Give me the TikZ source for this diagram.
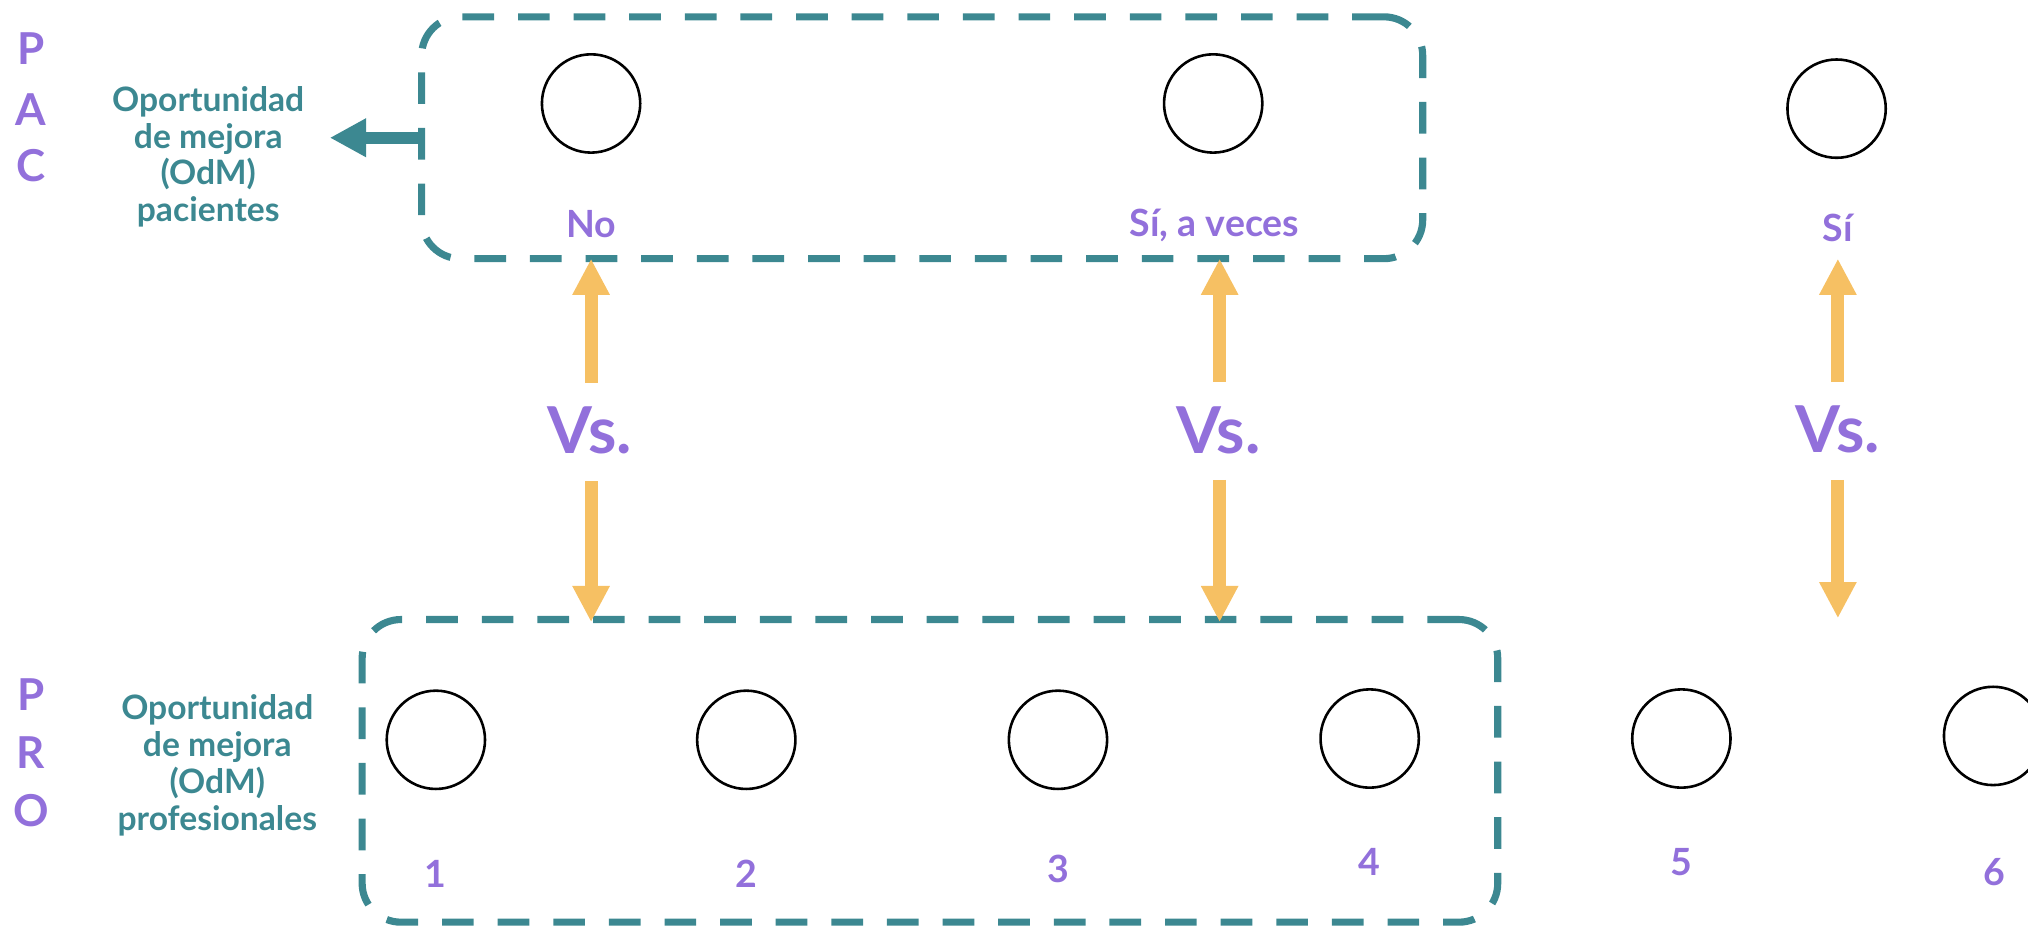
\documentclass[tikz,border=0pt]{standalone}
\usepackage{fontspec}
\setmainfont{Lato}
\usetikzlibrary{arrows.meta}
\definecolor{tealc}{HTML}{3C8891}
\definecolor{purp}{HTML}{9270DB}
\definecolor{orng}{HTML}{F6C063}
\begin{document}
\begin{tikzpicture}[x=1pt,y=-1pt,
  dashbox/.style={draw=tealc,line width=5.5pt,dash pattern=on 24.5pt off 18.5pt,rounded corners=30pt,inner sep=0pt,outer sep=0pt},
  circ/.style={draw=black,line width=2pt,circle,minimum size=76pt,inner sep=0pt},
  lbl/.style={text=purp,font=\fontsize{29}{34}\selectfont\bfseries,anchor=base,inner sep=0pt},
  vs/.style={text=purp,font=\fontsize{50}{60}\selectfont\bfseries,anchor=base,inner sep=0pt},
  side/.style={text=purp,font=\fontsize{34}{40}\selectfont\bfseries,anchor=base,inner sep=0pt},
  odm/.style={text=tealc,font=\fontsize{26}{28.5}\selectfont\bfseries,align=center,anchor=base,inner sep=0pt},
  oarrow/.style={draw=orng,line width=10pt,-{Triangle[length=28pt,width=27pt]}},
  tarrow/.style={draw=tealc,line width=9pt,-{Triangle[length=28pt,width=28pt]}}]
\useasboundingbox (0,0) rectangle (1568,717);
\clip (0,0) rectangle (1568,717);
% boxes
\node[dashbox,minimum width=774pt,minimum height=187pt] (pacbox) at (713,106.5) {};
\node[dashbox,minimum width=878pt,minimum height=234pt] (probox) at (719,596) {};
% side letters
\node[side] (pP) at (24,50) {P};
\node[side] (pA) at (24,97) {A};
\node[side] (pC) at (24,140) {C};
\node[side] (rP) at (24,549) {P};
\node[side] (rR) at (24,594) {R};
\node[side] (rO) at (24,639) {O};
% OdM texts (base = last line)
\node[odm] (odmpac) at (161,171.5) {Oportunidad\\de mejora\\(OdM)\\pacientes};
\node[odm] (odmpro) at (168,642) {Oportunidad\\de mejora\\(OdM)\\profesionales};
\coordinate (odmtip) at (255,106.5);
\draw[tarrow] (pacbox.west) -- (odmtip);
% PAC circles
\node[circ] (c1) at (457,80) {};
\node[circ] (c2) at (938,80) {};
\node[circ] (c3) at (1420,84) {};
\node[lbl] (lno) at (457,184) {No};
\node[lbl] (lav) at (939,183) {Sí, a veces};
\node[lbl] (lsi) at (1421,187) {Sí};
% PRO circles
\node[circ] (d1) at (337,572) {};
\node[circ] (d2) at (577,572) {};
\node[circ] (d3) at (818,572) {};
\node[circ] (d4) at (1059,571) {};
\node[circ] (d5) at (1300,571) {};
\node[circ] (d6) at (1541,569) {};
\node[lbl] (n1) at (337,686) {1};
\node[lbl] (n2) at (577,686) {2};
\node[lbl] (n3) at (818,682) {3};
\node[lbl] (n4) at (1059,677) {4};
\node[lbl] (n5) at (1300,677) {5};
\node[lbl] (n6) at (1542,685) {6};
% Vs and arrows
\node[vs] (vs1) at (456,351) {Vs.};
\node[vs] (vs2) at (942,351) {Vs.};
\node[vs] (vs3) at (1421,350) {Vs.};
\coordinate (u1a) at (457,296); \coordinate (u1b) at (457,200);
\coordinate (d1a) at (457,372); \coordinate (d1b) at (457,481);
\coordinate (u2a) at (943,295); \coordinate (u2b) at (943,200);
\coordinate (d2a) at (943,371); \coordinate (d2b) at (943,481);
\coordinate (u3a) at (1421,295); \coordinate (u3b) at (1421,200);
\coordinate (d3a) at (1421,371); \coordinate (d3b) at (1421,478);
\draw[oarrow] (u1a) -- (u1b);
\draw[oarrow] (d1a) -- (d1b);
\draw[oarrow] (u2a) -- (u2b);
\draw[oarrow] (d2a) -- (d2b);
\draw[oarrow] (u3a) -- (u3b);
\draw[oarrow] (d3a) -- (d3b);
\end{tikzpicture}
\end{document}
